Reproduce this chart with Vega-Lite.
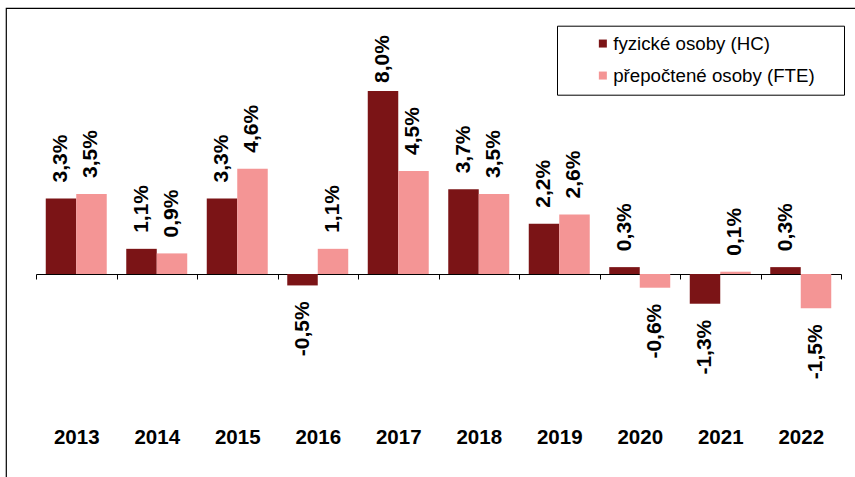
{
  "$schema": "https://vega.github.io/schema/vega-lite/v6.json",
  "width": 855,
  "height": 475,
  "autosize": {"type": "none"},
  "padding": {"left": 6, "top": 8, "right": 0, "bottom": 0},
  "background": "white",
  "config": {
    "locale": {"number": {"decimal": ",", "thousands": " ", "grouping": [3], "currency": ["", " Kč"], "minus": "-"}},
    "view": {"stroke": "black", "strokeWidth": 1.2},
    "font": "Liberation Sans"
  },
  "data": {
    "values": [
      {"year": "2013", "series": "fyzické osoby (HC)", "value": 0.033},
      {"year": "2013", "series": "přepočtené osoby (FTE)", "value": 0.035},
      {"year": "2014", "series": "fyzické osoby (HC)", "value": 0.011},
      {"year": "2014", "series": "přepočtené osoby (FTE)", "value": 0.009},
      {"year": "2015", "series": "fyzické osoby (HC)", "value": 0.033},
      {"year": "2015", "series": "přepočtené osoby (FTE)", "value": 0.046},
      {"year": "2016", "series": "fyzické osoby (HC)", "value": -0.005},
      {"year": "2016", "series": "přepočtené osoby (FTE)", "value": 0.011},
      {"year": "2017", "series": "fyzické osoby (HC)", "value": 0.080},
      {"year": "2017", "series": "přepočtené osoby (FTE)", "value": 0.045},
      {"year": "2018", "series": "fyzické osoby (HC)", "value": 0.037},
      {"year": "2018", "series": "přepočtené osoby (FTE)", "value": 0.035},
      {"year": "2019", "series": "fyzické osoby (HC)", "value": 0.022},
      {"year": "2019", "series": "přepočtené osoby (FTE)", "value": 0.026},
      {"year": "2020", "series": "fyzické osoby (HC)", "value": 0.003},
      {"year": "2020", "series": "přepočtené osoby (FTE)", "value": -0.006},
      {"year": "2021", "series": "fyzické osoby (HC)", "value": -0.013},
      {"year": "2021", "series": "přepočtené osoby (FTE)", "value": 0.001},
      {"year": "2022", "series": "fyzické osoby (HC)", "value": 0.003},
      {"year": "2022", "series": "přepočtené osoby (FTE)", "value": -0.015}
    ]
  },
  "encoding": {
    "x": {
      "field": "year",
      "type": "nominal",
      "scale": {"range": [30, 835], "paddingInner": 0, "paddingOuter": 0},
      "axis": {
        "orient": "bottom",
        "offset": -209,
        "title": null,
        "labelAngle": 0,
        "domainColor": "black",
        "domainWidth": 1.2,
        "tickColor": "black",
        "tickSize": 5,
        "tickWidth": 1,
        "tickBand": "extent",
        "labelFont": "Liberation Sans",
        "labelFontWeight": "bold",
        "labelFontSize": 20.5,
        "labelColor": "black",
        "labelPadding": 148,
        "grid": false
      }
    },
    "xOffset": {
      "field": "series",
      "type": "nominal",
      "scale": {"domain": ["fyzické osoby (HC)", "přepočtené osoby (FTE)"], "paddingInner": 0, "paddingOuter": 0.32}
    },
    "y": {
      "field": "value",
      "type": "quantitative",
      "scale": {"domain": [-0.09137, 0.11628], "nice": false, "zero": false},
      "axis": null
    }
  },
  "layer": [
    {
      "mark": {"type": "bar"},
      "encoding": {
        "color": {
          "field": "series",
          "type": "nominal",
          "scale": {"domain": ["fyzické osoby (HC)", "přepočtené osoby (FTE)"], "range": ["#7B1416", "#F49595"]},
          "legend": {
            "orient": "none",
            "legendX": 551,
            "legendY": 17.7,
            "title": null,
            "strokeColor": "black",
            "fillColor": "white",
            "padding": 8.5,
            "symbolType": "square",
            "symbolSize": 64,
            "symbolStrokeWidth": 0,
            "symbolOffset": 28,
            "labelFontSize": 18.7,
            "labelFont": "Liberation Sans",
            "labelColor": "black",
            "labelOffset": 1,
            "labelLimit": 500,
            "rowPadding": 12,
            "labelExpr": "datum.label + '    \u200b'"
          }
        }
      }
    },
    {
      "transform": [{"filter": "datum.value >= 0 && datum.value < 0.07"}],
      "mark": {"type": "text", "angle": 270, "align": "left", "baseline": "middle", "dx": 16, "font": "Liberation Sans", "fontWeight": "bold", "fontSize": 21, "color": "black"},
      "encoding": {"text": {"field": "value", "type": "quantitative", "format": ".1%"}}
    },
    {
      "transform": [{"filter": "datum.value >= 0.07"}],
      "mark": {"type": "text", "angle": 270, "align": "left", "baseline": "middle", "dx": 8, "font": "Liberation Sans", "fontWeight": "bold", "fontSize": 21, "color": "black"},
      "encoding": {"text": {"field": "value", "type": "quantitative", "format": ".1%"}}
    },
    {
      "transform": [{"filter": "datum.value < 0"}],
      "mark": {"type": "text", "angle": 270, "align": "right", "baseline": "middle", "dx": -16, "font": "Liberation Sans", "fontWeight": "bold", "fontSize": 21, "color": "black"},
      "encoding": {"text": {"field": "value", "type": "quantitative", "format": ".1%"}}
    }
  ]
}
